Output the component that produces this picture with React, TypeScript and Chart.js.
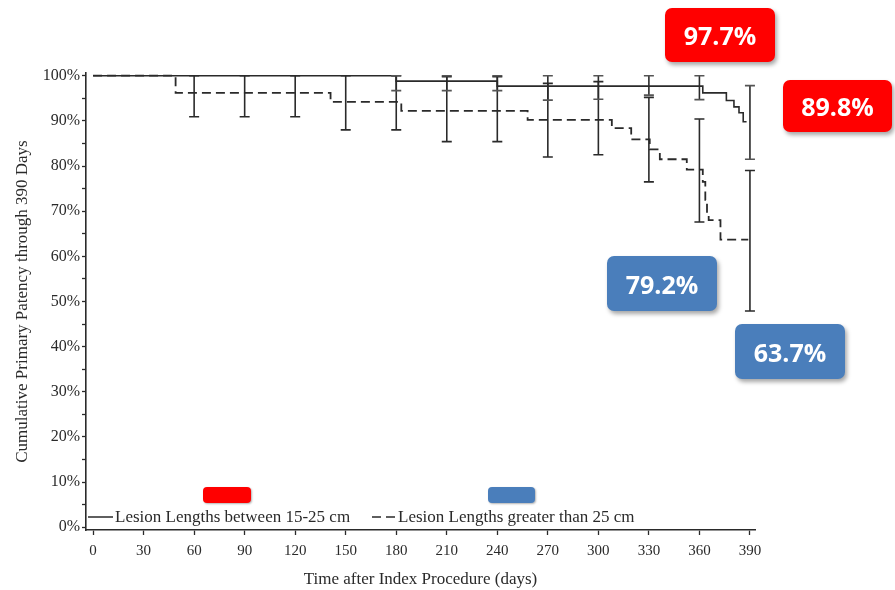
import React, { useEffect, useRef } from 'react';
import { Chart, registerables } from 'chart.js';

Chart.register(...registerables);

// ---- data ----
const xTicks = [0, 30, 60, 90, 120, 150, 180, 210, 240, 270, 300, 330, 360, 390];
const yTicks = [0, 5, 10, 15, 20, 25, 30, 35, 40, 45, 50, 55, 60, 65, 70, 75, 80, 85, 90, 95, 100];

const seriesNames = ['Lesion Lengths between 15-25 cm', 'Lesion Lengths greater than 25 cm'];

// Kaplan-Meier step curve, lesions 15-25 cm (day, % patent)
const shortDays = [0, 180, 240, 362, 376, 380.5, 383.5, 386, 388];
const shortPct = [100, 98.8, 97.7, 96.2, 94.5, 93.1, 91.8, 89.8, 89.8];

// Kaplan-Meier step curve, lesions > 25 cm
const longDays = [0, 49, 141, 183, 258, 308, 319.5, 330.5, 336.5, 352.5, 362, 363.5, 364.5, 365.5, 372.5, 389];
const longPct = [100, 96.2, 94.2, 92.2, 90.2, 88.4, 85.9, 83.7, 81.5, 79.2, 76.5, 72.5, 69.5, 68.0, 63.7, 63.7];

// confidence intervals
const shortCiDays = [180, 210, 240, 270, 300, 330, 360, 390];
const shortCiLow = [96.7, 96.7, 96.7, 94.6, 94.8, 95.7, 94.7, 81.5];
const shortCiHigh = [100, 100, 100, 100, 100, 100, 100, 97.8];

const longCiDays = [60, 90, 120, 150, 180, 210, 240, 270, 300, 330, 360, 390];
const longCiLow = [90.9, 90.9, 90.9, 88.0, 88.0, 85.4, 85.4, 82.0, 82.5, 76.5, 67.6, 47.9];
const longCiHigh = [100, 100, 100, 100, 100, 99.8, 99.8, 98.3, 98.7, 95.2, 90.4, 79.0];

const calloutLabels = ['97.7%', '89.8%', '79.2%', '63.7%'];

const toPoints = (xs: number[], ys: number[]) => xs.map((x, i) => ({ x, y: ys[i] }));

const INK = '#2a2a2a';
const SERIF = '"Liberation Serif", "DejaVu Serif", serif';

const errorBarPlugin = {
  id: 'errorBars',
  afterDatasetsDraw(chart: any) {
    const { ctx, scales } = chart;
    const xs = scales.x;
    const ys = scales.y;
    const draw = (days: number[], lo: number[], hi: number[], capColor: string) => {
      days.forEach((d, i) => {
        const px = xs.getPixelForValue(d);
        const pLo = ys.getPixelForValue(lo[i]);
        const pHi = ys.getPixelForValue(hi[i]);
        ctx.save();
        ctx.strokeStyle = INK;
        ctx.lineWidth = 1.6;
        ctx.beginPath();
        ctx.moveTo(px, pHi);
        ctx.lineTo(px, pLo);
        ctx.stroke();
        ctx.strokeStyle = capColor;
        ctx.lineWidth = 1.6;
        ctx.beginPath();
        ctx.moveTo(px - 5, pHi);
        ctx.lineTo(px + 5, pHi);
        ctx.moveTo(px - 5, pLo);
        ctx.lineTo(px + 5, pLo);
        ctx.stroke();
        ctx.restore();
      });
    };
    draw(longCiDays, longCiLow, longCiHigh, INK);
    draw(shortCiDays, shortCiLow, shortCiHigh, '#555');
  },
};

const innerLegendPlugin = {
  id: 'innerLegend',
  afterDraw(chart: any) {
    const { ctx, chartArea } = chart;
    const y = chartArea.bottom - 13;
    const x0 = chartArea.left + 2;
    ctx.save();
    ctx.font = `17px ${SERIF}`;
    ctx.fillStyle = INK;
    ctx.textBaseline = 'middle';
    ctx.strokeStyle = INK;
    ctx.lineWidth = 1.5;
    // solid sample
    ctx.beginPath();
    ctx.moveTo(x0, y);
    ctx.lineTo(x0 + 25, y);
    ctx.stroke();
    ctx.fillText(seriesNames[0], x0 + 27, y + 1);
    // dashed sample
    const x1 = chartArea.left + 286;
    ctx.setLineDash([9, 5]);
    ctx.beginPath();
    ctx.moveTo(x1, y);
    ctx.lineTo(x1 + 24, y);
    ctx.stroke();
    ctx.setLineDash([]);
    ctx.fillText(seriesNames[1], x1 + 26, y + 1);
    ctx.restore();
  },
};

function ChartCanvas() {
  const ref = useRef<HTMLCanvasElement | null>(null);
  useEffect(() => {
    if (!ref.current) return;
    Chart.defaults.font.family = SERIF;
    Chart.defaults.color = INK;
    const chart = new Chart(ref.current, {
      type: 'scatter',
      data: {
        datasets: [
          {
            label: seriesNames[0],
            data: toPoints(shortDays, shortPct),
            showLine: true,
            stepped: 'before' as any,
            borderColor: INK,
            borderWidth: 1.6,
            pointRadius: 0,
            fill: false,
          },
          {
            label: seriesNames[1],
            data: toPoints(longDays, longPct),
            showLine: true,
            stepped: 'before' as any,
            borderColor: INK,
            borderWidth: 1.8,
            borderDash: [9, 5],
            pointRadius: 0,
            fill: false,
          },
        ],
      },
      options: {
        responsive: false,
        animation: false,
        layout: { padding: { top: 73, right: 140, left: 0, bottom: 0 } },
        plugins: {
          legend: { display: false },
          tooltip: { enabled: false },
        },
        scales: {
          x: {
            type: 'linear',
            min: -4.2,
            max: 393,
            afterBuildTicks: (s: any) => {
              s.ticks = xTicks.map((v) => ({ value: v }));
            },
            afterFit: (s: any) => {
              s.height = 60;
            },
            ticks: {
              font: { size: 15 },
              color: INK,
              padding: 7,
              maxRotation: 0,
              autoSkip: false,
              callback: (v: any) => String(v),
            },
            grid: { drawOnChartArea: false, drawTicks: true, tickLength: 5, color: INK, tickWidth: 1.3 },
            border: { display: true, color: INK, width: 1.6 },
            title: {
              display: true,
              text: 'Time after Index Procedure (days)',
              font: { size: 17 },
              color: INK,
              padding: { top: 0, bottom: 0 },
            },
          },
          y: {
            type: 'linear',
            min: -0.6,
            max: 100.6,
            afterBuildTicks: (s: any) => {
              s.ticks = yTicks.map((v) => ({ value: v }));
            },
            afterFit: (s: any) => {
              s.width = 86;
            },
            ticks: {
              font: { size: 16 },
              color: INK,
              padding: 2,
              autoSkip: false,
              callback: (v: any) => (Number(v) % 10 === 0 ? `${v}%` : ''),
            },
            grid: { drawOnChartArea: false, drawTicks: true, tickLength: 4, color: INK, tickWidth: 1.3 },
            border: { display: true, color: INK, width: 1.6 },
            title: {
              display: true,
              text: 'Cumulative Primary Patency through 390 Days',
              font: { size: 17 },
              color: INK,
              padding: { top: 12, bottom: 0 },
            },
          },
        },
      },
      plugins: [errorBarPlugin, innerLegendPlugin],
    } as any);
    return () => chart.destroy();
  }, []);
  return <canvas ref={ref} width={895} height={590} style={{ position: 'absolute', left: 0, top: 0 }} />;
}

const boxText: React.CSSProperties = {
  position: 'absolute',
  display: 'flex',
  alignItems: 'center',
  justifyContent: 'center',
  color: '#ffffff',
  fontFamily: '"Open Sans", "Liberation Sans", sans-serif',
  fontWeight: 700,
  fontSize: 25,
  borderRadius: 7,
  boxShadow: '2px 3px 4px rgba(0,0,0,0.35)',
};

const RED = '#ff0000';
const BLUE = '#4a7ebb';

export default function App() {
  return (
    <div style={{ position: 'fixed', left: 0, top: 0, width: 895, height: 590, background: '#fff', overflow: 'hidden' }}>
      <ChartCanvas />
      <div style={{ ...boxText, left: 665, top: 8, width: 110, height: 54, background: RED }}>{calloutLabels[0]}</div>
      <div style={{ ...boxText, left: 783, top: 80, width: 109, height: 52, background: RED }}>{calloutLabels[1]}</div>
      <div style={{ ...boxText, left: 607, top: 256, width: 110, height: 55, background: BLUE }}>{calloutLabels[2]}</div>
      <div style={{ ...boxText, left: 735, top: 324, width: 110, height: 55, background: BLUE }}>{calloutLabels[3]}</div>
      <div style={{ position: 'absolute', left: 203, top: 487, width: 48, height: 16, background: RED, borderRadius: 4, boxShadow: '1px 1px 2px rgba(0,0,0,0.3)' }} />
      <div style={{ position: 'absolute', left: 488, top: 487, width: 47, height: 16, background: BLUE, borderRadius: 4, boxShadow: '1px 1px 2px rgba(0,0,0,0.3)' }} />
    </div>
  );
}
